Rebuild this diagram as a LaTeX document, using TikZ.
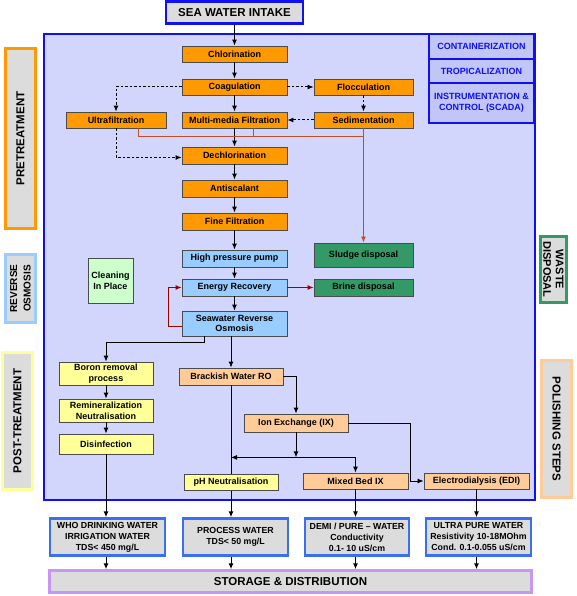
\documentclass[tikz,border=0pt]{standalone}
\usepackage{fontspec}
\setmainfont{Liberation Sans}
\usepackage{tikz}
\usetikzlibrary{arrows.meta}
\usepackage{xcolor}
\definecolor{mainfill}{RGB}{210,214,252}
\definecolor{sidefill}{RGB}{194,198,246}
\definecolor{mainblue}{RGB}{16,16,240}
\definecolor{outblue}{RGB}{60,110,240}
\definecolor{lilac}{RGB}{200,150,240}
\definecolor{grayfill}{RGB}{220,220,220}
\definecolor{boxline}{RGB}{75,75,75}
\definecolor{orangefill}{RGB}{255,153,0}
\definecolor{bluefill}{RGB}{153,204,255}
\definecolor{greenfill}{RGB}{51,153,102}
\definecolor{cipfill}{RGB}{204,255,204}
\definecolor{yellowfill}{RGB}{255,255,153}
\definecolor{peachfill}{RGB}{255,204,153}
\definecolor{sludgeline}{RGB}{190,80,40}
\definecolor{brineline}{RGB}{153,0,0}
\tikzset{
  box/.style={draw=boxline, line width=0.8pt, align=center, inner sep=0pt,
    font=\bfseries\fontsize{9}{10.7}\selectfont},
  orangebox/.style={box, fill=orangefill, minimum width=105, minimum height=16},
  robox/.style={box, fill=bluefill, minimum width=105, minimum height=17},
  wastebox/.style={box, fill=greenfill, minimum width=99},
  postbox/.style={box, fill=yellowfill, minimum width=94},
  polishbox/.style={box, fill=peachfill, minimum width=105, minimum height=16},
  optbox/.style={draw=mainblue, line width=2pt, fill=sidefill, text=mainblue,
    align=center, inner sep=0pt, minimum width=105,
    font=\bfseries\fontsize{9}{11}\selectfont},
  outbox/.style={draw=outblue, line width=2.5pt, fill=grayfill, align=center,
    inner sep=0pt, minimum height=37, font=\bfseries\fontsize{8.8}{11}\selectfont},
  sidelabel/.style={line width=2.5pt, fill=grayfill, align=center, inner sep=0pt,
    minimum height=30, font=\bfseries\fontsize{11.5}{13.5}\selectfont},
  arr/.style={-{Latex[length=6pt,width=5pt]}, line width=1pt},
  dasharr/.style={arr, dash pattern=on 2.5pt off 2pt},
  sludgearr/.style={arr, draw=sludgeline, -{Latex[length=6pt,width=5pt,fill=sludgeline]}},
  brinearr/.style={arr, draw=brineline, -{Latex[length=6pt,width=5pt,fill=brineline]}}
}
\begin{document}
\begin{tikzpicture}[x=1pt,y=-1pt]
\useasboundingbox (0,0) rectangle (576,596);
\draw[mainblue, line width=2.5pt, fill=mainfill] (44,34) rectangle (535,500);

\node[outbox, draw=mainblue, minimum width=137, minimum height=22,
  font=\bfseries\fontsize{11.5}{13}\selectfont] (intake) at (234.5,12.5) {SEA WATER INTAKE};

\node[optbox, minimum height=25] (contain) at (481.5,46.5) {CONTAINERIZATION};
\node[optbox, minimum height=24] (tropic) at (481.5,71) {TROPICALIZATION};
\node[optbox, minimum height=40] (scada) at (481.5,103) {INSTRUMENTATION \&\\CONTROL (SCADA)};

\node[orangebox] (chlor) at (234.5,54) {Chlorination};
\node[orangebox] (coag) at (234.5,87) {Coagulation};
\node[orangebox] (mmf) at (234.5,120) {Multi-media Filtration};
\node[orangebox, minimum width=100] (ultra) at (116,120) {Ultrafiltration};
\node[orangebox, minimum width=99] (floc) at (363.5,87) {Flocculation};
\node[orangebox, minimum width=99] (sedim) at (363.5,120) {Sedimentation};
\node[orangebox, minimum height=17] (dechl) at (234.5,155.5) {Dechlorination};
\node[orangebox, minimum height=17] (antis) at (234.5,188.5) {Antiscalant};
\node[orangebox, minimum height=17] (fine) at (234.5,221.5) {Fine Filtration};

\node[robox] (hpp) at (234.5,258.5) {High pressure pump};
\node[robox] (energy) at (234.5,287.5) {Energy Recovery};
\node[robox, minimum height=25] (swro) at (234.5,323.5) {Seawater Reverse\\Osmosis};
\node[box, fill=cipfill, minimum width=45, minimum height=45] (cip) at (110.5,280.5) {Cleaning\\In Place};

\node[wastebox, minimum height=24] (sludge) at (363.5,255) {Sludge disposal};
\node[wastebox, minimum height=17] (brine) at (363.5,287.5) {Brine disposal};

\node[postbox, minimum height=23] (boron) at (106,373.5) {Boron removal\\process};
\node[postbox, minimum height=23] (remin) at (106,410.5) {Remineralization\\Neutralisation};
\node[postbox, minimum height=20] (disinf) at (106,444) {Disinfection};

\node[polishbox, minimum width=104, minimum height=17] (bwro) at (231,376.5) {Brackish Water RO};
\node[polishbox, minimum width=104, minimum height=18] (ix) at (296,423) {Ion Exchange (IX)};
\node[polishbox] (mbix) at (355.5,481) {Mixed Bed IX};
\node[polishbox] (edi) at (476.5,481) {Electrodialysis (EDI)};

\node[outbox, minimum width=115] (who) at (107.5,537) {WHO DRINKING WATER\\IRRIGATION WATER\\TDS< 450 mg/L};
\node[outbox, minimum width=105] (procw) at (235.5,537) {PROCESS WATER\\TDS< 50 mg/L};
\node[outbox, minimum width=104] (demi) at (357,537) {DEMI / PURE – WATER\\Conductivity\\0.1- 10 uS/cm};
\node[outbox, minimum width=105] (ultrap) at (478.5,537) {ULTRA PURE WATER\\Resistivity 10-18MOhm\\Cond. 0.1-0.055 uS/cm};
\node[outbox, draw=lilac, minimum width=482, minimum height=22,
  font=\bfseries\fontsize{11.5}{13}\selectfont] (storage) at (290.5,581.5) {STORAGE \& DISTRIBUTION};

\node[sidelabel, draw=orangefill, rotate=90, minimum width=180] (pretreat) at (20.5,138.5) {PRETREATMENT};
\node[sidelabel, draw=bluefill, rotate=90, minimum width=68,
  font=\bfseries\fontsize{10}{13.5}\selectfont] (revosm) at (20.5,288.5) {REVERSE\\OSMOSIS};
\node[sidelabel, draw=yellowfill, rotate=90, minimum width=137] (posttreat) at (17.5,421) {POST-TREATMENT};
\node[sidelabel, draw=greenfill, rotate=-90, minimum width=66, minimum height=26,
  font=\bfseries\fontsize{11}{12.5}\selectfont] (waste) at (553.5,269.5) {WASTE\\DISPOSAL};
\node[sidelabel, draw=peachfill, rotate=-90, minimum width=137] (polish) at (556.5,429) {POLISHING STEPS};

\foreach \a/\b in {intake/chlor, chlor/coag, coag/mmf, mmf/dechl, dechl/antis,
  antis/fine, fine/hpp, hpp/energy, energy/swro, boron/remin, remin/disinf}
  \draw[arr] (\a) -- (\b);

\draw[dasharr] (coag) -- (floc);
\draw[dasharr] (floc) -- (sedim);
\draw[dasharr] (sedim) -- (mmf);
\draw[dasharr] (coag.west) -| (ultra.north);
\draw[dasharr] (ultra.south) |- ([yshift=-2pt]dechl.west);

\draw[sludgeline, line width=1pt] ([xshift=22pt]ultra.south) |- ([yshift=-8pt]sedim.south);
\draw[sludgeline, line width=1pt] ([xshift=18.5pt]mmf.south) -- ++(0,8);
\draw[sludgearr] (sedim) -- (sludge);

\draw[brinearr] (energy) -- (brine);
\draw[brinearr] ([yshift=-3pt]swro.west) -- ++(-13,0) |- (energy.west);

\draw[arr] ([xshift=-30.5pt]swro.south) -- ++(0,6) -| (boron.north);
\draw[arr] (swro.south -| bwro) -- (bwro.north);
\draw[arr] (bwro.east) -| (ix.north);
\coordinate (split) at ([yshift=-25pt]ix.south);
\draw[arr] (ix.south) -- (split);
\draw[arr] (split) -- (split -| bwro);
\draw[arr] (split) -| (mbix.north);
\draw[arr] (ix.east) -- ++(62,0) |- (edi.west);

\draw[arr] (disinf.south) -- (disinf.south |- who.north);
\draw[arr] (bwro.south) -- (bwro.south |- procw.north);
\draw[arr] (mbix.south) -- (mbix.south |- demi.north);
\draw[arr] (edi.south) -- (edi.south |- ultrap.north);
\draw[arr] (who.south -| disinf) -- (storage.north -| disinf);
\draw[arr] (procw.south -| bwro) -- (storage.north -| bwro);
\draw[arr] (demi.south -| mbix) -- (storage.north -| mbix);
\draw[arr] (ultrap.south -| edi) -- (storage.north -| edi);

\node[postbox, minimum height=16] (phn) at (231,482.5) {pH Neutralisation};
\end{tikzpicture}
\end{document}
